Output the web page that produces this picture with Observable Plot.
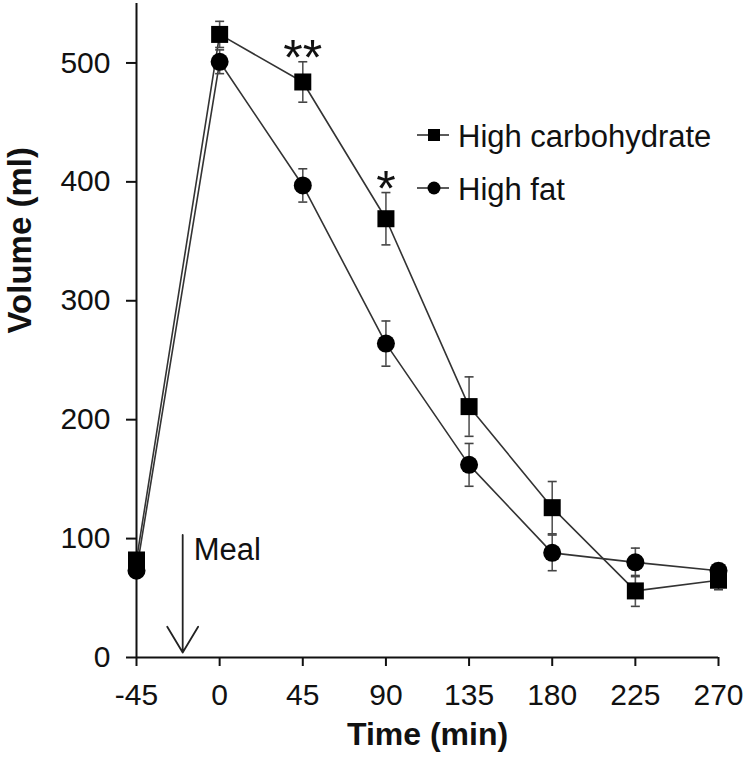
<!DOCTYPE html>
<html><head><meta charset="utf-8">
<script src="https://cdn.jsdelivr.net/npm/d3@7"></script>
<script src="https://cdn.jsdelivr.net/npm/@observablehq/plot@0.6"></script>
<style>
body{margin:0;background:#fff;}
#wrap{position:relative;width:749px;height:766px;}
#legend{position:absolute;left:410px;top:105px;}
</style></head><body><div id="wrap"></div>
<script>
const times = [-45, 0, 45, 90, 135, 180, 225, 270];
const highCarb = [82, 524, 484, 369, 211, 126, 56, 65];
const highCarbErr = [5, 11, 17, 22, 25, 22, 13, 8];
const highFat = [73, 501, 397, 264, 162, 88, 80, 73];
const highFatErr = [5, 10, 14, 19, 18, 15, 12, 6];
const seriesNames = ["High carbohydrate", "High fat"];
const xTicks = [-45, 0, 45, 90, 135, 180, 225, 270];
const yTicks = [0, 100, 200, 300, 400, 500];
const sigTimes = [45, 90];
const sigLabels = ["**", "*"];
const mealLabel = ["Meal"];
const mealTime = [-20];
const mealTop = [103];
const xTitle = ["Time (min)"];
const yTitle = ["Volume (ml)"];

const FONT = "'Liberation Sans', Arial, sans-serif";
const hc = times.map((t, i) => ({time: t, volume: highCarb[i], err: highCarbErr[i]}));
const hf = times.map((t, i) => ({time: t, volume: highFat[i], err: highFatErr[i]}));
const rows = [...hc.map(d => ({...d, series: seriesNames[0]})), ...hf.map(d => ({...d, series: seriesNames[1]}))];
const sig = sigTimes.map((t, i) => {
  const k = times.indexOf(t);
  return {time: t, volume: highCarb[k] + highCarbErr[k], label: sigLabels[i]};
});
const meal = mealTime.map((t, i) => ({time: t, top: mealTop[i], bottom: 0, label: mealLabel[i]}));
const cap = {draw(ctx) { ctx.moveTo(-4.5, 0); ctx.lineTo(4.5, 0); }};

const plot = Plot.plot({
  width: 749,
  height: 766,
  marginLeft: 136,
  marginRight: 31,
  marginTop: 3,
  marginBottom: 109,
  style: {fontFamily: FONT, color: "#111", background: "#fff"},
  x: {domain: [-45, 270]},
  y: {domain: [0, 550]},
  marks: [
    Plot.axisY({ticks: yTicks, tickSize: 10, tickPadding: 16, fontSize: 30, strokeWidth: 2, label: null, tickFormat: d => String(d)}),
    Plot.axisX({ticks: xTicks, tickSize: 9, tickPadding: 17, fontSize: 30, strokeWidth: 2, label: null, tickFormat: d => String(d)}),
    Plot.ruleX([-45], {stroke: "#111", strokeWidth: 2}),
    Plot.ruleY([0], {stroke: "#111", strokeWidth: 2}),
    Plot.text(yTitle, {frameAnchor: "left", rotate: -90, dx: -116, dy: 3, fontSize: 33, fontWeight: "bold", fill: "#111"}),
    Plot.text(xTitle, {frameAnchor: "bottom", dy: 87, fontSize: 32, fontWeight: "bold", fill: "#111"}),
    Plot.line(rows, {x: "time", y: "volume", z: "series", stroke: "#333", strokeWidth: 1.6}),
    Plot.ruleX(rows, {x: "time", y1: d => d.volume - d.err, y2: d => d.volume + d.err, stroke: "#555", strokeWidth: 1.6}),
    Plot.dot(rows, {x: "time", y: d => d.volume + d.err, symbol: cap, stroke: "#444", strokeWidth: 1.6, fill: "none", r: 4}),
    Plot.dot(rows, {x: "time", y: d => d.volume - d.err, symbol: cap, stroke: "#444", strokeWidth: 1.6, fill: "none", r: 4}),
    Plot.dot(hc, {x: "time", y: "volume", symbol: "square", fill: "#000", r: 9.6}),
    Plot.dot(hf, {x: "time", y: "volume", symbol: "circle", fill: "#000", r: 9}),
    Plot.text(sig, {x: "time", y: "volume", text: "label", fontSize: 50, dy: -3, fill: "#111"}),
    Plot.arrow(meal, {x: "time", y1: "top", y2: "bottom", headAngle: 62, headLength: 25, insetEnd: 5, stroke: "#222", strokeWidth: 1.8}),
    Plot.text(meal, {x: "time", y: "top", text: "label", textAnchor: "start", lineAnchor: "top", dx: 11, dy: 3, fontSize: 31, fill: "#111"})
  ]
});

const wrap = document.getElementById("wrap");
wrap.appendChild(plot);

// legend overlay
const leg = d3.create("svg").attr("id", "legend").attr("width", 330).attr("height", 110)
  .style("font-family", FONT);
const legRows = [
  {name: seriesNames[0], sym: "square", cy: 30, ty: 42},
  {name: seriesNames[1], sym: "circle", cy: 83, ty: 95}
];
for (const r of legRows) {
  leg.append("line").attr("x1", 7).attr("x2", 39).attr("y1", r.cy).attr("y2", r.cy).attr("stroke", "#333").attr("stroke-width", 1.6);
  if (r.sym === "square") leg.append("rect").attr("x", 24 - 6).attr("y", r.cy - 6).attr("width", 12).attr("height", 12).attr("fill", "#000");
  else leg.append("circle").attr("cx", 24).attr("cy", r.cy).attr("r", 6.5).attr("fill", "#000");
  leg.append("text").attr("x", 48).attr("y", r.ty).attr("font-size", 31).attr("fill", "#111").text(r.name);
}
wrap.appendChild(leg.node());
</script>
</body></html>
